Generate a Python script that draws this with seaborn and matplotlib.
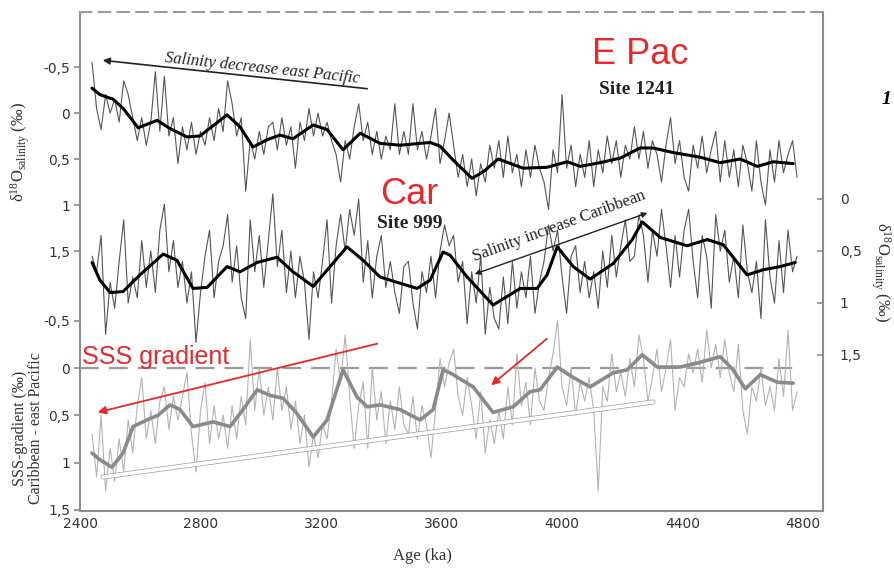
import numpy as np
import matplotlib
matplotlib.use('Agg')
import matplotlib.pyplot as plt
import matplotlib.patheffects as pe
import seaborn as sns

sns.set_style('white')
plt.rcParams['font.family'] = ['DejaVu Sans']
plt.rcParams['mathtext.fontset'] = 'custom'
plt.rcParams['mathtext.rm'] = 'Liberation Serif'
plt.rcParams['mathtext.it'] = 'Liberation Serif:italic'

# --- data (age in ka, values in permil) ---
# Site 1241, east Pacific, smoothed record
pac_smooth_age = [2440, 2466, 2510, 2543, 2593, 2656, 2699, 2755, 2798, 2888,
                  2931, 2974, 3021, 3064, 3107, 3174, 3220, 3273, 3330, 3396,
                  3462, 3562, 3595, 3638, 3701, 3738, 3788, 3871, 3950, 4017,
                  4060, 4126, 4193, 4259, 4302, 4369, 4458, 4525, 4591, 4648,
                  4701, 4767]
pac_smooth_val = [-0.27, -0.20, -0.15, -0.05, 0.16, 0.08, 0.17, 0.26, 0.25, 0.02,
                  0.15, 0.37, 0.29, 0.24, 0.28, 0.13, 0.18, 0.40, 0.22, 0.33,
                  0.35, 0.32, 0.36, 0.51, 0.71, 0.64, 0.50, 0.60, 0.59, 0.53,
                  0.58, 0.54, 0.49, 0.38, 0.38, 0.43, 0.48, 0.54, 0.50, 0.58,
                  0.53, 0.55]
# Site 1241 raw record, one sample every 15 ka from 2440 to 4780 ka
pac_raw = [-0.55, -0.05, 0.18, -0.2, 0.0, -0.15, 0.1, -0.35, -0.2, 0.05,
           0.3, 0.05, 0.35, 0.1, -0.45, 0.2, -0.4, 0.25, 0.05, 0.55,
           0.15, 0.4, 0.1, 0.45, 0.2, 0.35, 0.05, 0.3, -0.05, 0.2,
           -0.35, -0.1, 0.25, 0.05, 0.85, 0.3, 0.5, 0.2, 0.45, 0.15,
           0.1, 0.4, 0.05, 0.35, 0.15, 0.6, 0.1, 0.3, -0.05, 0.25,
           0.0, 0.25, 0.1, 0.3, 0.45, 0.75, 0.3, 0.5, 0.15, -0.1,
           0.3, 0.1, 0.45, 0.2, 0.5, 0.25, 0.4, -0.1, 0.45, 0.2,
           0.45, -0.1, 0.4, 0.2, 0.5, 0.25, -0.05, 0.55, 0.3, 0.0,
           0.35, 0.7, 0.45, 0.8, 0.5, 0.9, 0.55, 0.75, 0.35, 0.6,
           0.3, 0.7, 0.25, 0.65, 0.45, 0.8, 0.4, 0.7, 0.35, 0.6,
           0.75, 1.05, 0.4, 0.65, -0.2, 0.6, 0.35, 0.8, 0.45, 0.7,
           0.3, 0.8, 0.4, 0.65, 0.25, 0.55, 0.3, 0.7, 0.35, 0.5,
           0.15, 0.5, 0.2, 0.6, 0.3, 0.45, 0.75, 0.35, 0.05, 0.55,
           0.3, 0.7, 0.85, 0.35, 0.6, 0.25, 0.65, 0.4, 0.2, 0.75,
           0.3, 0.7, 0.4, 0.8, 0.35, 0.55, 0.85, 0.3, 0.75, 1.0,
           0.4, 0.75, 0.3, 0.65, 0.45, 0.3, 0.7]

# Site 999, Caribbean
car_smooth_age = [2440, 2466, 2500, 2543, 2599, 2676, 2722, 2775, 2822, 2888,
                  2931, 2988, 3054, 3107, 3174, 3230, 3286, 3340, 3396, 3462,
                  3519, 3562, 3605, 3628, 3685, 3771, 3861, 3917, 3950, 3984,
                  4037, 4093, 4170, 4233, 4266, 4326, 4415, 4482, 4535, 4614,
                  4668, 4724, 4774]
car_smooth_val = [0.61, 0.78, 0.90, 0.89, 0.73, 0.53, 0.59, 0.86, 0.85, 0.65,
                  0.70, 0.61, 0.56, 0.70, 0.84, 0.65, 0.46, 0.59, 0.75, 0.81,
                  0.86, 0.78, 0.51, 0.54, 0.75, 1.02, 0.86, 0.86, 0.73, 0.46,
                  0.65, 0.77, 0.62, 0.39, 0.22, 0.37, 0.45, 0.39, 0.44, 0.73,
                  0.68, 0.65, 0.61]
car_raw = [0.55, 0.7, 0.35, 1.3, 0.8, 1.05, 0.6, 0.2, 1.0, 0.75,
           0.95, 0.4, 0.85, 0.5, 0.9, 0.3, 0.05, 0.7, 0.4, 0.85,
           0.6, 1.0, 0.7, 1.38, 0.9, 0.55, 0.3, 0.95, 0.6, 0.45,
           0.15, 0.8, 0.45, 0.95, 1.15, 0.2, 0.7, 0.35, 0.85, 0.4,
           -0.05, 0.65, 0.3, 0.9, 0.5, 0.95, 0.55, 0.8, 1.35, 0.7,
           0.95, 0.6, 0.2, 1.0, 0.45, 0.15, 0.5, 0.1, 0.35, 0.0,
           0.8, 0.4, 0.95, 0.55, 0.35, 0.85, 0.6, 0.9, 1.1, 0.65,
           0.6, 1.0, 1.25, 0.7, 0.9, 0.55, 0.95, 0.5, 0.25, 0.45,
           0.35, 0.8, 0.6, 1.2, 0.7, 1.0, 0.55, 1.3, 0.85, 1.15,
           1.25, 0.75, 1.2, 0.6, 1.05, 0.7, 0.95, 0.55, 1.1, 0.8,
           0.6, 0.25, 0.5, 0.3, 0.75, 1.1, 0.55, 0.45, 0.9, 0.6,
           0.95, 0.7, 1.05, 0.5, 0.85, 0.35, 0.75, 0.45, 0.2, 0.6,
           0.55, 0.15, 0.35, 0.8, 0.3, 0.55, 0.1, 0.45, 0.85, 0.35,
           0.75, 0.3, 0.1, 0.6, 0.95, 0.35, 0.55, 1.05, 0.15, 0.5,
           0.3, 0.8, 0.55, 0.95, 0.25, 0.7, 0.9, 0.6, 1.15, 0.2,
           0.75, 1.0, 0.4, 0.9, 0.3, 0.7, 0.55]

# SSS gradient Caribbean - east Pacific
sss_smooth_age = [2440, 2466, 2506, 2543, 2576, 2622, 2659, 2699, 2732, 2775,
                  2842, 2898, 2941, 2988, 3031, 3074, 3120, 3174, 3220, 3273,
                  3320, 3353, 3396, 3462, 3529, 3572, 3605, 3628, 3705, 3771,
                  3838, 3894, 3927, 3984, 4037, 4093, 4170, 4216, 4266, 4316,
                  4392, 4458, 4525, 4568, 4608, 4658, 4714, 4767]
sss_smooth_val = [0.90, 0.97, 1.05, 0.90, 0.62, 0.55, 0.50, 0.39, 0.44, 0.62,
                  0.57, 0.62, 0.44, 0.23, 0.29, 0.32, 0.48, 0.73, 0.55, 0.02,
                  0.31, 0.41, 0.39, 0.44, 0.55, 0.44, 0.02, 0.05, 0.20, 0.47,
                  0.41, 0.25, 0.23, -0.01, 0.10, 0.20, 0.05, 0.02, -0.14, -0.01,
                  -0.01, -0.06, -0.12, 0.02, 0.22, 0.07, 0.15, 0.16]
sss_raw = [0.7, 1.15, 0.5, 1.3, 0.85, 1.2, 0.75, 1.1, 0.55, 0.9,
           0.4, 0.1, 0.75, 0.45, 0.8, 0.35, 0.2, 0.65, 0.3, 0.55,
           0.3, 0.05, 0.7, 1.1, 0.45, 0.15, 0.8, 0.4, 0.75, 0.5,
           0.85, 0.4, 0.75, 0.3, 0.6, -0.3, 0.45, 0.0, 0.5, 0.2,
           0.55, 0.0, 0.45, 0.2, 0.65, 0.35, 0.8, 0.5, 1.05, 0.7,
           0.95, 0.6, 0.75, 0.35, -0.2, 0.15, -0.35, 0.3, 0.85, 0.4,
           0.15, 0.85, 0.0, 0.55, 0.25, 0.8, 0.35, 0.65, 0.2, 0.6,
           0.7, 0.3, 0.75, 0.4, 0.6, 0.95, 0.45, -0.1, 0.2, -0.05,
           -0.2, 0.3, 0.5, 0.1, 0.4, 0.75, 0.25, 0.9, 0.55, 0.8,
           0.45, 0.75, 0.2, 0.6, -0.15, 0.4, 0.15, 0.6, 0.0, 0.35,
           0.45, 0.1, -0.15, -0.5, 0.2, 0.4, 0.0, 0.5, 0.15, 0.35,
           0.1, 0.45, 1.3, 0.2, 0.35, -0.15, 0.25, 0.05, 0.3, -0.1,
           0.2, -0.35, -0.1, 0.35, 0.1, -0.2, 0.25, 0.0, -0.3, 0.45,
           0.1, 0.2, -0.15, 0.05, -0.2, 0.15, -0.4, 0.0, -0.25, 0.1,
           -0.3, 0.05, 0.25, -0.25, 0.45, 0.7, 0.2, 0.35, 0.0, 0.4,
           0.2, 0.45, -0.1, 0.3, -0.4, 0.45, 0.25]

age_ticks = [2400, 2800, 3200, 3600, 4000, 4400, 4800]
left_ticks = [-0.5, 0, 0.5, 1, 1.5]
right_ticks = [0, 0.5, 1, 1.5]
tick_labels = {-0.5: '-0,5', 0: '0', 0.5: '0,5', 1: '1', 1.5: '1,5'}

W, H = 894, 568


def fx(x):
    return x / W


def fy(y):
    return 1 - y / H


fig = plt.figure(figsize=(W / 100, H / 100), dpi=100)
ax_pac = fig.add_axes([fx(80), 57 / H, 743 / W, 499 / H])
ax_car = ax_pac.twinx()
ax_sss = ax_pac.twinx()

spine_col = '#8c8c8c'
raw_dark = '#555555'


def raw_age(vals):
    return np.linspace(2440, 4780, len(vals))


smooth_kw = dict(solid_joinstyle='round', solid_capstyle='round')

# E Pacific
sns.lineplot(x=raw_age(pac_raw), y=pac_raw, ax=ax_pac, color=raw_dark, lw=0.8)
sns.lineplot(x=pac_smooth_age, y=pac_smooth_val, ax=ax_pac, color='black', lw=2.2, **smooth_kw)
# Caribbean
sns.lineplot(x=raw_age(car_raw), y=car_raw, ax=ax_car, color=raw_dark, lw=0.8)
sns.lineplot(x=car_smooth_age, y=car_smooth_val, ax=ax_car, color='black', lw=2.2, **smooth_kw)
# SSS gradient
ax_sss.axhline(0, xmin=0, xmax=0.966, color='#9a9a9a', lw=1.6, dashes=(8.5, 4.5), zorder=0)
sns.lineplot(x=raw_age(sss_raw), y=sss_raw, ax=ax_sss, color='#b3b3b3', lw=0.8)
sns.lineplot(x=sss_smooth_age, y=sss_smooth_val, ax=ax_sss, color='#8a8a8a', lw=2.6, **smooth_kw)

ax_pac.set_xlim(2400, 4866)
ax_pac.set_ylim(4.326, -1.098)
ax_car.set_ylim(3.0, -1.798)
ax_sss.set_ylim(1.513, -3.767)

for ax in (ax_pac, ax_car, ax_sss):
    for s in ax.spines.values():
        s.set_visible(False)
    ax.set_xlabel('')
    ax.set_ylabel('')

for side in ('left', 'bottom', 'right'):
    ax_pac.spines[side].set_visible(True)
    ax_pac.spines[side].set_color(spine_col)
    ax_pac.spines[side].set_linewidth(1.5)
ax_pac.spines['top'].set_visible(True)
ax_pac.spines['top'].set_color('#9a9a9a')
ax_pac.spines['top'].set_linewidth(1.5)
ax_pac.spines['top'].set_linestyle((0, (5.5, 3.5)))

tick_kw = dict(labelsize=10, labelcolor='#333333', color=spine_col, width=1.2)
ax_pac.set_xticks(age_ticks)
ax_pac.set_xticklabels([str(a) for a in age_ticks])
ax_pac.tick_params(axis='x', direction='in', length=3, pad=4, **tick_kw)
ax_pac.set_yticks(left_ticks)
ax_pac.set_yticklabels([tick_labels[t] for t in left_ticks])
ax_pac.tick_params(axis='y', direction='out', length=4, left=True, right=False, pad=3, **tick_kw)

ax_sss.yaxis.tick_left()
ax_sss.set_yticks(left_ticks)
ax_sss.set_yticklabels([tick_labels[t] for t in left_ticks])
ax_sss.tick_params(axis='y', direction='out', length=4, pad=3, **tick_kw)
ax_sss.tick_params(axis='x', bottom=False, labelbottom=False)

ax_car.set_yticks(right_ticks)
ax_car.set_yticklabels([tick_labels[t] for t in right_ticks])
ax_car.tick_params(axis='y', direction='in', length=4, pad=12, **tick_kw)
ax_car.tick_params(axis='x', bottom=False, labelbottom=False)

# axis titles
serif = 'Liberation Serif'
dlabel = r'$\mathrm{\delta^{18}O_{salinity}}$ (‰)'
fig.text(fx(20), fy(152), dlabel, rotation=90, ha='center', va='center',
         family=serif, fontsize=12, color='#333333')
fig.text(fx(881), fy(272), dlabel, rotation=-90, ha='center', va='center',
         family=serif, fontsize=12, color='#333333')
fig.text(fx(28), fy(428), 'SSS-gradient (‰)\nCaribbean - east Pacific', rotation=90,
         ha='center', va='center', family=serif, fontsize=11.5, color='#333333',
         linespacing=1.05)
fig.text(fx(422), fy(556), 'Age (ka)', ha='center', va='center', family=serif,
         fontsize=12, color='#333333')

# site labels
red = '#e8282b'
fig.text(fx(640), fy(55), 'E Pac', ha='center', va='center', color=red,
         family='Liberation Sans', fontsize=26)
fig.text(fx(637), fy(90), 'Site 1241', ha='center', va='center', family=serif,
         fontweight='bold', fontsize=14, color='#222222')
fig.text(fx(409), fy(195), 'Car', ha='center', va='center', color=red,
         family='Liberation Sans', fontsize=26)
fig.text(fx(410), fy(223), 'Site 999', ha='center', va='center', family=serif,
         fontweight='bold', fontsize=14, color='#222222')
fig.text(fx(82), fy(357), 'SSS gradient', ha='left', va='center', color=red,
         family='Liberation Sans', fontsize=18)
fig.text(fx(882), fy(100), '1', ha='left', va='center', family=serif,
         fontweight='bold', style='italic', fontsize=14, color='black')

# arrows and trend notes
fig.add_artist(matplotlib.patches.FancyArrowPatch(
    (fx(370), fy(89)), (fx(100), fy(60)), transform=fig.transFigure,
    arrowstyle='-|>', mutation_scale=10, color='#222222', lw=1.2))
fig.text(fx(262), fy(68), 'Salinity decrease east Pacific', rotation=-6.1,
         ha='center', va='center', family=serif, style='italic', fontsize=12,
         color='#222222', rotation_mode='anchor')
fig.add_artist(matplotlib.patches.FancyArrowPatch(
    (fx(650), fy(212)), (fx(472), fy(275)), transform=fig.transFigure,
    arrowstyle='<|-|>', mutation_scale=8, color='#222222', lw=1.0))
fig.text(fx(559), fy(226), 'Salinity increase Caribbean', rotation=20,
         ha='center', va='center', family=serif, fontsize=12,
         color='#222222', rotation_mode='anchor')

fig.add_artist(matplotlib.patches.FancyArrowPatch(
    (fx(380), fy(343)), (fx(95), fy(413)), transform=fig.transFigure,
    arrowstyle='-|>', mutation_scale=12, color=red, lw=1.3))
fig.add_artist(matplotlib.patches.FancyArrowPatch(
    (fx(549), fy(337)), (fx(489), fy(387)), transform=fig.transFigure,
    arrowstyle='-|>', mutation_scale=12, color=red, lw=1.3))

wline = matplotlib.lines.Line2D([fx(103), fx(653)], [fy(477), fy(402)],
                                transform=fig.transFigure, color='white', lw=2.6,
                                path_effects=[pe.Stroke(linewidth=3.6, foreground='#9a9a9a'),
                                              pe.Normal()])
fig.add_artist(wline)

fig.savefig('out.png', dpi=100)
